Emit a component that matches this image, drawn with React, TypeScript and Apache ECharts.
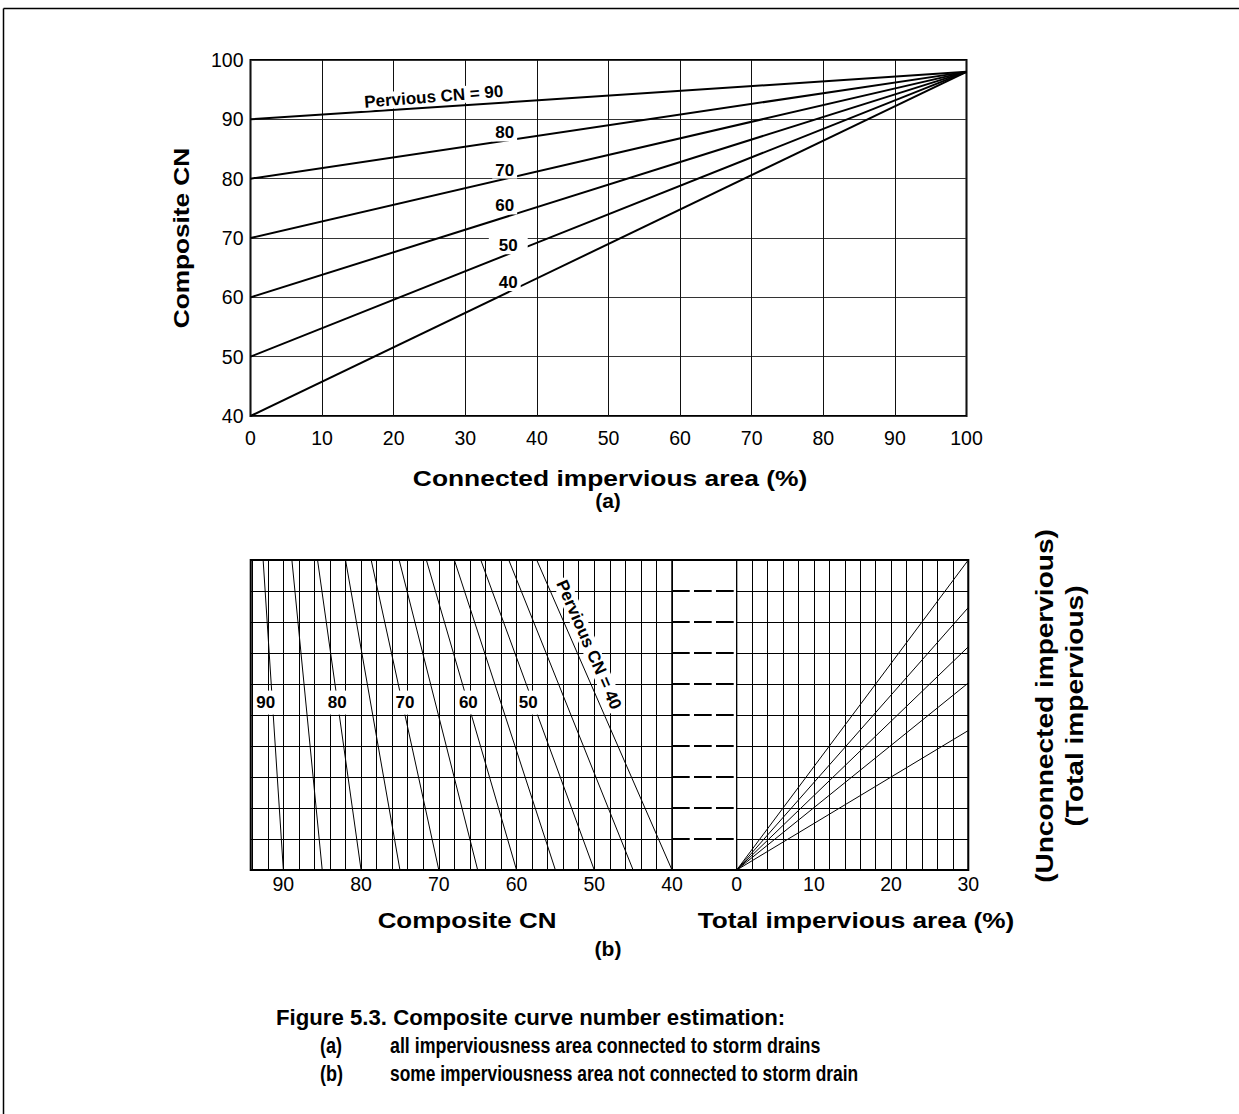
import React, { useEffect, useRef } from "react";
import * as echarts from "echarts";

// ---------- Chart (a): composite CN vs connected impervious area ----------
const A_X_RANGE = [0, 100];
const A_Y_RANGE = [40, 100];
const A_PERVIOUS_CN = [90, 80, 70, 60, 50, 40];
const A_IMPERVIOUS_CN = 98; // every line ends here at 100 % impervious
const A_LINE_LABELS = ["Pervious CN = 90", "80", "70", "60", "50", "40"];
const A_LINE_LABEL_X = [25.6, 35.5, 35.5, 35.5, 36.0, 36.0];
const A_LINE_LABEL_Y = [93.8, 87.7, 81.45, 75.4, 68.7, 62.5];

// ---------- Chart (b), left panel: composite CN ----------
const B_CN_RANGE = [40, 94.2];
const B_Y_RANGE = [0, 30];
const B_PERVIOUS_CN = [90, 85, 80, 75, 70, 65, 60, 55, 50, 45, 40];
const B_COMPOSITE_AT_TOP = [92.6, 88.9, 85.6, 82.0, 78.7, 75.1, 71.6, 68.0, 64.6, 61.0, 57.4];
const B_CN_LABELS = ["90", "80", "70", "60", "50", "Pervious CN = 40"];
const B_CN_LABEL_X = [92.27, 83.06, 74.35, 66.2, 58.49, 50.7];
const B_CN_LABEL_Y = [16.2, 16.2, 16.2, 16.2, 16.2, 21.8];

// ---------- Chart (b), right panel: total impervious area ----------
const B_IMP_RANGE = [0, 30];
const B_RATIO_END_Y = [30, 25.4, 21.6, 18.1, 13.5];
const B_RATIO_LABELS = ["0.0", "", "0.5", "", "1.0"];

// ---------- texts ----------
const CAPTION_TITLE = "Figure 5.3. Composite curve number estimation:";
const CAPTION_ITEMS = ["(a)", "(b)"];
const CAPTION_LINES = [
  "all imperviousness area connected to storm drains",
  "some imperviousness area not connected to storm drain",
];

const SANS = "'Liberation Sans',Arial,Helvetica,sans-serif";
const RATIO_LABEL_DY = [11, 0, 8, 0, 5];

function txt(
  text: string,
  x: number,
  y: number,
  size: number,
  o: { rot?: number; sx?: number; align?: string; bold?: boolean } = {}
) {
  const align = o.align || "center";
  return {
    type: "text",
    x,
    y,
    rotation: o.rot || 0,
    scaleX: o.sx || 1,
    silent: true,
    z: 100,
    style: {
      text,
      fill: "#000",
      font: `${o.bold === false ? "normal" : "bold"} ${size}px ${SANS}`,
      align,
      verticalAlign: "middle",
      textAlign: align,
      textVerticalAlign: "middle",
    },
  };
}

function buildOption() {
  const tickLabel = { fontFamily: SANS, fontSize: 19.5, color: "#000" };
  const markLabel = {
    show: true,
    position: "inside",
    formatter: (p: any) => p.name,
    fontFamily: SANS,
    fontWeight: "bold",
    fontSize: 17,
    color: "#000",
    opacity: 1,
    textBorderWidth: 0,
    backgroundColor: "#fff",
  };

  const series: any[] = [];

  // (a) lines
  A_PERVIOUS_CN.forEach((cn) =>
    series.push({
      type: "line",
      xAxisIndex: 0,
      yAxisIndex: 0,
      symbol: "none",
      silent: true,
      z: 3,
      data: [
        [A_X_RANGE[0], cn],
        [A_X_RANGE[1], A_IMPERVIOUS_CN],
      ],
      lineStyle: { color: "#000", width: 2 },
    })
  );
  series.push({
    type: "scatter",
    xAxisIndex: 0,
    yAxisIndex: 0,
    symbolSize: 0,
    itemStyle: { color: "#000" },
    silent: true,
    z: 6,
    data: A_LINE_LABELS.map((t, i) => ({
      name: t,
      value: [A_LINE_LABEL_X[i], A_LINE_LABEL_Y[i]],
      label: { rotate: i === 0 ? 4.5 : 0, padding: i === 4 ? [0, 10] : [0, 3] },
    })),
    label: { ...markLabel, lineHeight: 17 },
  });

  // (b) left panel lines
  B_PERVIOUS_CN.forEach((cn, i) =>
    series.push({
      type: "line",
      xAxisIndex: 1,
      yAxisIndex: 1,
      symbol: "none",
      silent: true,
      z: 3,
      data: [
        [cn, B_Y_RANGE[0]],
        [B_COMPOSITE_AT_TOP[i], B_Y_RANGE[1]],
      ],
      lineStyle: { color: "#000", width: 1 },
    })
  );
  series.push({
    type: "scatter",
    xAxisIndex: 1,
    yAxisIndex: 1,
    symbolSize: 0,
    itemStyle: { color: "#000" },
    silent: true,
    z: 6,
    data: B_CN_LABELS.map((t, i) => ({
      name: t,
      value: [B_CN_LABEL_X[i], B_CN_LABEL_Y[i]],
      label: i === 5 ? { rotate: -66.4, padding: [0, 2], lineHeight: 17 } : {},
    })),
    label: { ...markLabel, lineHeight: 24, padding: [0, 1] },
  });

  // (b) right panel lines
  B_RATIO_END_Y.forEach((yEnd, i) =>
    series.push({
      type: "line",
      xAxisIndex: 3,
      yAxisIndex: 3,
      symbol: "none",
      silent: true,
      z: 3,
      data: [
        [B_IMP_RANGE[0], B_Y_RANGE[0]],
        {
          value: [B_IMP_RANGE[1], yEnd],
          label: {
            show: B_RATIO_LABELS[i] !== "",
            formatter: B_RATIO_LABELS[i],
            position: "right",
            distance: 5,
            offset: [0, RATIO_LABEL_DY[i]],
            fontFamily: SANS,
            fontSize: 19.5,
            color: "#000",
          },
        },
      ],
      lineStyle: { color: "#000", width: 1 },
    })
  );

  const graphic: any[] = [
    // figure border
    { type: "line", silent: true, shape: { x1: 3.5, y1: 8.5, x2: 1239, y2: 8.5 }, style: { stroke: "#000", lineWidth: 1.5 } },
    { type: "line", silent: true, shape: { x1: 3.5, y1: 8.5, x2: 3.5, y2: 1114 }, style: { stroke: "#000", lineWidth: 1.5 } },
    // frame of (b)
    {
      type: "rect",
      silent: true,
      z: 90,
      shape: { x: 250.7, y: 560, width: 717.6, height: 310 },
      style: { fill: "none", stroke: "#000", lineWidth: 2 },
    },
    // (a) titles
    txt("Composite CN", 181, 238, 22, { rot: Math.PI / 2, sx: 1.19 }),
    txt("Connected impervious area (%)", 610, 478, 22, { sx: 1.2 }),
    txt("(a)", 608, 500, 21),
    // (b) titles
    txt("Composite CN", 467, 920, 22, { sx: 1.18 }),
    txt("Total impervious area (%)", 856, 920, 22, { sx: 1.19 }),
    txt("(b)", 608, 948, 21),
    txt("(Unconnected impervious)", 1045, 706, 23, { rot: Math.PI / 2, sx: 1.22 }),
    txt("(Total impervious)", 1075, 706, 23, { rot: Math.PI / 2, sx: 1.22 }),
    // caption
    txt(CAPTION_TITLE, 276, 1017, 22.2, { align: "left" }),
    txt(CAPTION_ITEMS[0], 320, 1045, 22, { align: "left", sx: 0.82 }),
    txt(CAPTION_LINES[0], 390, 1045, 22, { align: "left", sx: 0.81 }),
    txt(CAPTION_ITEMS[1], 320, 1073, 22, { align: "left", sx: 0.82 }),
    txt(CAPTION_LINES[1], 390, 1073, 22, { align: "left", sx: 0.79 }),
  ];

  const tenLabel = (v: number) => (Math.abs(v % 10) < 1e-6 ? String(v) : "");

  return {
    animation: false,
    backgroundColor: "#fff",
    grid: [
      { left: 250.5, top: 60, width: 716, height: 356, show: true, borderColor: "#000", borderWidth: 2 },
      { left: 250.7, top: 560, width: 421.3, height: 310, show: true, borderColor: "#000", borderWidth: 1 },
      { left: 672, top: 560, width: 64.7, height: 310, show: true, borderColor: "#000", borderWidth: 1 },
      { left: 736.7, top: 560, width: 231.6, height: 310, show: true, borderColor: "#000", borderWidth: 1 },
    ],
    xAxis: [
      {
        gridIndex: 0,
        type: "value",
        min: A_X_RANGE[0],
        max: A_X_RANGE[1],
        interval: 10,
        axisLine: { show: false },
        axisTick: { show: false },
        axisLabel: { ...tickLabel, margin: 12 },
        splitLine: { show: true, lineStyle: { color: "#111", width: 1 } },
      },
      {
        gridIndex: 1,
        type: "value",
        inverse: true,
        min: B_CN_RANGE[0],
        max: B_CN_RANGE[1],
        interval: 2,
        axisLine: { show: false },
        axisTick: { show: false },
        axisLabel: { ...tickLabel, margin: 4, formatter: tenLabel },
        splitLine: { show: true, lineStyle: { color: "#000", width: 1 } },
      },
      {
        gridIndex: 2,
        type: "value",
        min: 0,
        max: 1,
        axisLine: { show: false },
        axisTick: { show: false },
        axisLabel: { show: false },
        splitLine: { show: false },
      },
      {
        gridIndex: 3,
        type: "value",
        min: B_IMP_RANGE[0],
        max: B_IMP_RANGE[1],
        interval: 2,
        axisLine: { show: false },
        axisTick: { show: false },
        axisLabel: { ...tickLabel, margin: 4, formatter: tenLabel },
        splitLine: { show: true, lineStyle: { color: "#000", width: 1 } },
      },
    ],
    yAxis: [
      {
        gridIndex: 0,
        type: "value",
        min: A_Y_RANGE[0],
        max: A_Y_RANGE[1],
        interval: 10,
        axisLine: { show: false },
        axisTick: { show: false },
        axisLabel: { ...tickLabel, margin: 7 },
        splitLine: { show: true, lineStyle: { color: "#333", width: 1 } },
      },
      {
        gridIndex: 1,
        type: "value",
        min: B_Y_RANGE[0],
        max: B_Y_RANGE[1],
        interval: 3,
        axisLine: { show: false },
        axisTick: { show: false },
        axisLabel: { show: false },
        splitLine: { show: true, lineStyle: { color: "#000", width: 1 } },
      },
      {
        gridIndex: 2,
        type: "value",
        min: B_Y_RANGE[0],
        max: B_Y_RANGE[1],
        interval: 3,
        axisLine: { show: false },
        axisTick: { show: false },
        axisLabel: { show: false },
        splitLine: { show: true, lineStyle: { color: "#000", width: 2, type: [17.7, 4.3] } },
      },
      {
        gridIndex: 3,
        type: "value",
        min: B_Y_RANGE[0],
        max: B_Y_RANGE[1],
        interval: 3,
        axisLine: { show: false },
        axisTick: { show: false },
        axisLabel: { show: false },
        splitLine: { show: true, lineStyle: { color: "#000", width: 1 } },
      },
    ],
    series,
    graphic,
  };
}

export default function App() {
  const ref = useRef<HTMLDivElement>(null);
  useEffect(() => {
    if (!ref.current) return;
    const chart = echarts.init(ref.current, null, { renderer: "svg" });
    chart.setOption(buildOption() as any);
    return () => chart.dispose();
  }, []);
  return (
    <div
      ref={ref}
      style={{ position: "absolute", left: 0, top: 0, width: 1239, height: 1114, background: "#fff" }}
    />
  );
}
